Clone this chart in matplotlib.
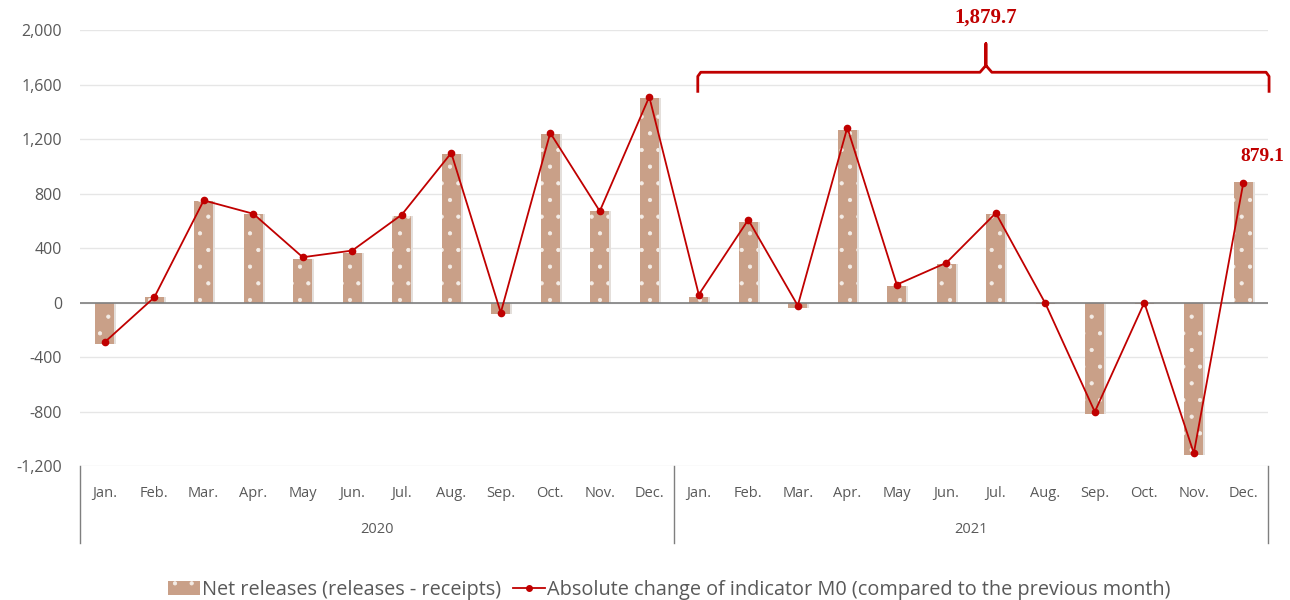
import numpy as np
import matplotlib
matplotlib.use("Agg")
import matplotlib.pyplot as plt
import matplotlib.transforms as mtransforms
from matplotlib.patches import Patch
from matplotlib.lines import Line2D

months = ["Jan.", "Feb.", "Mar.", "Apr.", "May", "Jun.", "Jul.", "Aug.", "Sep.", "Oct.", "Nov.", "Dec."]
years = ["2020", "2021"]
net_releases = [-300, 40, 745, 648, 318, 365, 635, 1088, -83, 1235, 669, 1498,
                44, 590, -39, 1270, 125, 284, 647, -10, -819, -10, -1118, 882]
m0_change = [-290, 38, 750, 652, 333, 382, 645, 1098, -74, 1245, 671, 1510,
             59, 608, -22, 1284, 132, 292, 657, -5, -801, 0, -1105, 879.1]
sum_2021 = "1,879.7"
last_label = "879.1"

BAR = "#c9a088"
RED = "#c00000"
GREY = "#595959"

plt.rcParams["font.family"] = ["Open Sans", "DejaVu Sans"]
plt.rcParams["hatch.linewidth"] = 0.6
fig = plt.figure(figsize=(12.9, 6), dpi=100)
ax = fig.add_axes([0.062, 0.223, 0.921, 0.727])

x = np.arange(len(net_releases))
ax.bar(x + 0.04, net_releases, width=0.39, color="#e4dfdb", zorder=1)  # soft shadow
ax.bar(x, net_releases, width=0.39, color=BAR, edgecolor="#f3ece6", linewidth=0,
       hatch=".", zorder=2)
ax.plot(x, m0_change, color=RED, lw=1.3, marker="o", ms=4.5, zorder=4)

ax.set_xlim(-0.5, len(x) - 0.5)
ax.set_ylim(-1200, 2000)
ax.set_yticks(np.arange(-1200, 2001, 400))
ax.set_yticklabels([f"{v:,}" for v in range(-1200, 2001, 400)], color=GREY, fontsize=11.5)
ax.grid(axis="y", color="#e6e6e6", lw=1)
ax.set_axisbelow(True)
ax.axhline(0, color="#7f7f7f", lw=1.2, zorder=3)
for s in ax.spines.values():
    s.set_visible(False)
ax.tick_params(axis="both", length=0)
ax.tick_params(axis="y", pad=13)

ax.set_xticks(x)
ax.set_xticklabels(months * 2, color=GREY, fontsize=10.5)
ax.tick_params(axis="x", pad=14)

trans = mtransforms.blended_transform_factory(ax.transData, ax.transAxes)
for xv in [-0.5, 11.5, 23.5]:
    ax.plot([xv, xv], [0, -0.175], transform=trans, color="#7f7f7f", lw=1, clip_on=False)
for i, yr in enumerate(years):
    ax.text(5.5 + 12 * i, -0.145, yr, transform=trans, ha="center", va="center",
            color=GREY, fontsize=10.5)

# curly bracket over 2021
bx0, bx1, bxm = 11.98, 23.52, 17.8
ax.plot([bx0, bx0, bx0 + 0.06, bxm - 0.12, bxm, bxm, bxm, bxm + 0.12, bx1 - 0.06, bx1, bx1],
        [1550, 1660, 1690, 1690, 1740, 1900, 1740, 1690, 1690, 1660, 1550],
        color=RED, lw=2, clip_on=False, solid_joinstyle="round")
ax.text(bxm, 2090, sum_2021, ha="center", va="center", color=RED, fontsize=15,
        fontweight="bold", family="Liberation Serif", clip_on=False)
ax.text(22.95, 1070, last_label, ha="left", va="center", color=RED, fontsize=14,
        fontweight="bold", family="Liberation Serif", clip_on=False)

# legend
handles = [Patch(facecolor=BAR, edgecolor="#f3ece6", hatch=".", linewidth=0),
           Line2D([], [], color=RED, marker="o", ms=4, lw=1.3)]
labels = ["Net releases (releases - receipts)",
          "Absolute change of indicator M0 (compared to the previous month)"]
fig.legend(handles, labels, loc="center", bbox_to_anchor=(0.519, 0.017), ncol=2,
           frameon=False, fontsize=14.3, handlelength=1.6, handletextpad=0.1,
           columnspacing=0.6, labelcolor=GREY)

fig.savefig("out.png", dpi=100)
